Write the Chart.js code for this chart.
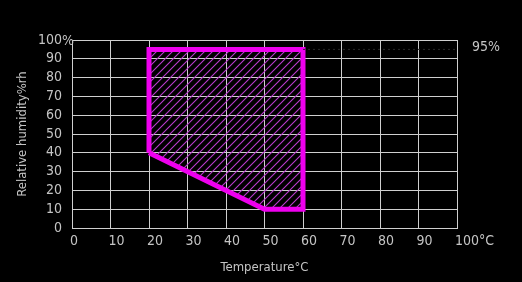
<!DOCTYPE html>
<html>
<head>
<meta charset="utf-8">
<script src="https://cdn.jsdelivr.net/npm/chart.js@4"></script>
<style>
  html, body { margin: 0; padding: 0; background: #000; }
  canvas { display: block; }
</style>
</head>
<body>
<canvas id="c" width="522" height="282"></canvas>
<script>
// ---- data ----
const tempValues = [20, 20, 60, 60, 50, 20];      // °C, polygon vertices (closed)
const humidityValues = [40, 95, 95, 10, 10, 40];  // %rh
const limitTemp = [60, 100];
const limitHumidity = [95, 95];
const xTickLabels = ['0','10','20','30','40','50','60','70','80','90','100°C'];
const yTickLabels = ['0','10','20','30','40','50','60','70','80','90','100'];
const limitLabel = '95%';
const xTitle = 'Temperature°C';
const yTitle = 'Relative humidity%rh';

const FONT = '"DejaVu Sans Condensed", "DejaVu Sans", sans-serif';
const TXT = '#c4c4c4';
const GRID = '#cfcfcf';

// hatch pattern
const pc = document.createElement('canvas');
pc.width = 8; pc.height = 8;
const p = pc.getContext('2d');
p.strokeStyle = 'rgb(185,60,205)';
p.lineWidth = 1.1;
p.beginPath();
p.moveTo(0, 8); p.lineTo(8, 0);
p.moveTo(-1, 1); p.lineTo(1, -1);
p.moveTo(7, 9); p.lineTo(9, 7);
p.stroke();
const hatch = document.getElementById('c').getContext('2d').createPattern(pc, 'repeat');

const polyData = tempValues.map((t, i) => ({x: t, y: humidityValues[i]}));
const limitData = limitTemp.map((t, i) => ({x: t, y: limitHumidity[i]}));

const extras = {
  id: 'extras',
  afterDraw(chart) {
    const {ctx, scales: {x, y}} = chart;
    ctx.save();
    ctx.fillStyle = TXT;
    ctx.font = '14px ' + FONT;
    ctx.textBaseline = 'middle';
    ctx.textAlign = 'left';
    // percent sign after top y tick
    ctx.fillText('%', x.left - 10, y.getPixelForValue(100) + 1);
    // limit annotation
    ctx.fillText(limitLabel, 472, y.getPixelForValue(95) - 2);
    ctx.restore();
  }
};

new Chart(document.getElementById('c'), {
  type: 'scatter',
  data: {
    datasets: [
      {
        data: limitData,
        showLine: true,
        borderColor: '#2a2a2a',
        borderWidth: 1,
        borderDash: [2, 3],
        pointRadius: 0,
        fill: false
      },
      {
        data: polyData,
        showLine: true,
        borderColor: '#ee00ee',
        borderWidth: 5,
        borderJoinStyle: 'miter',
        backgroundColor: hatch,
        fill: 'shape',
        pointRadius: 0,
        tension: 0
      }
    ]
  },
  options: {
    responsive: false,
    animation: false,
    events: [],
    layout: { padding: { top: 40, right: 65, left: 0, bottom: 0 } },
    plugins: { legend: { display: false }, tooltip: { enabled: false } },
    scales: {
      x: {
        type: 'linear', min: 0, max: 100,
        afterFit(s) { s.height = 54; },
        ticks: {
          stepSize: 10,
          autoSkip: false,
          color: TXT,
          font: { family: FONT, size: 14 },
          padding: 5,
          align: 'start',
          labelOffset: -2,
          maxRotation: 0,
          callback: (v) => xTickLabels[Math.round(v / 10)]
        },
        grid: { color: GRID, lineWidth: 1, drawTicks: false },
        border: { color: GRID, width: 1 },
        title: {
          display: true, text: xTitle, color: TXT,
          font: { family: FONT, size: 13 },
          padding: { top: 0, bottom: 7 }
        }
      },
      y: {
        type: 'linear', min: 0, max: 100,
        afterFit(s) { s.width = 72; },
        ticks: {
          stepSize: 10,
          autoSkip: false,
          color: TXT,
          font: { family: FONT, size: 14 },
          padding: 10,
          callback: (v) => yTickLabels[Math.round(v / 10)]
        },
        grid: { color: GRID, lineWidth: 1, drawTicks: false },
        border: { color: GRID, width: 1 },
        title: {
          display: true, text: yTitle, color: TXT,
          font: { family: FONT, size: 13 },
          padding: { top: 15, bottom: 0 }
        }
      }
    }
  },
  plugins: [extras]
});
</script>
</body>
</html>
